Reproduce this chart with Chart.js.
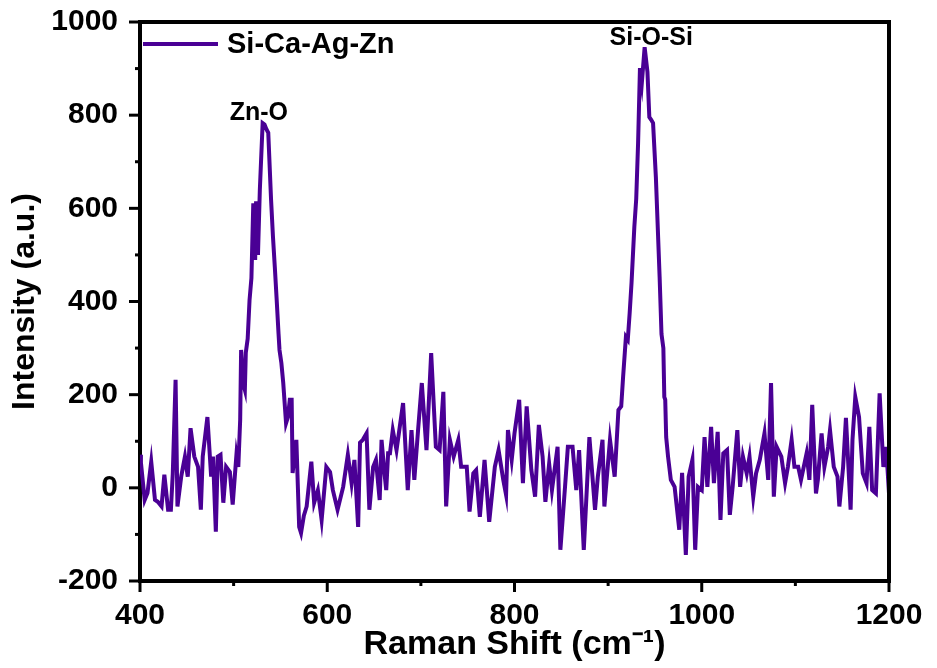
<!DOCTYPE html>
<html><head><meta charset="utf-8">
<script src="https://cdn.jsdelivr.net/npm/chart.js@4.4.1/dist/chart.umd.min.js"></script>
<style>html,body{margin:0;padding:0;background:#fff;} canvas{display:block;}</style>
</head><body>
<canvas id="c" width="937" height="668"></canvas>
<script>
const ramanShift = [400,401,405,408,412,416,419,423,426,430,433,435,438,440,444,448,451,454,458,462,465,467,472,476,478,481,483,486,489,492,496,499,503,505,507,508,510,512,513,515,517,519,521,523,524,526,528,531,533,535,537,540,542,544,546,548,549,551,553,556,558,560,562,563,567,570,572,575,578,583,586,590,594,599,603,606,611,617,622,626,629,633,635,638,642,645,649,652,656,658,661,663,665,667,670,674,681,686,690,693,697,701,706,711,716,720,724,727,731,735,740,743,749,752,756,759,763,768,773,779,783,788,791,793,797,800,805,809,813,818,822,826,830,833,837,840,846,849,854,857,862,866,869,874,880,886,889,894,896,902,907,911,914,916,919,921,923,925,928,930,932,934,936,939,942,944,946,948,951,955,957,959,960,961,962,964,967,971,976,979,983,986,990,993,996,1000,1003,1006,1010,1013,1017,1020,1023,1027,1030,1033,1038,1041,1044,1048,1051,1055,1058,1062,1067,1071,1074,1077,1080,1085,1089,1092,1096,1099,1103,1106,1112,1115,1118,1122,1124,1128,1131,1135,1137,1141,1145,1147,1151,1154,1159,1161,1164,1168,1172,1176,1179,1182,1186,1190,1194,1197,1200];
const intensity = [71,54,-26,-11,56,-26,-30,-40,28,-47,-47,30,232,-40,24,67,24,128,67,45,-47,67,152,24,67,-94,67,71,-32,45,34,-36,71,45,146,296,225,210,290,320,403,450,611,489,615,500,640,783,780,770,762,618,540,474,403,330,296,268,225,139,152,189,189,32,103,-84,-97,-60,-40,56,-32,-5,-69,45,34,-5,-47,2,71,10,60,-84,97,103,117,-47,45,60,-26,103,34,-5,74,74,124,81,182,-5,124,17,124,225,81,289,88,81,206,-40,103,67,103,45,45,-51,31,38,-62,60,-73,45,81,17,-15,124,60,117,189,10,175,38,-19,135,67,-30,52,-5,88,-133,3,88,88,-5,81,-133,109,-47,24,103,-40,103,24,167,175,238,324,318,375,440,560,620,740,901,869,946,893,796,790,783,667,453,330,300,195,189,109,67,17,2,-90,32,-144,24,60,-133,2,-5,109,2,131,10,120,-69,74,81,-58,2,124,2,67,31,67,-19,31,60,117,17,225,-19,88,67,10,45,103,45,45,17,74,17,178,-12,17,117,45,88,124,45,24,-40,45,150,-47,103,195,152,31,10,131,-5,-12,203,45,88,-12];
const xTickValues = [400,600,800,1000,1200];
const xMinorTicks = [500,700,900,1100];
const yTickValues = [-200,0,200,400,600,800,1000];
const yMinorTicks = [-100,100,300,500,700,900];
const seriesName = 'Si-Ca-Ag-Zn';
const peakLabels = ['Zn-O','Si-O-Si'];
const peakLabelX = [527, 946];
const peakLabelY = [790, 951];

const FONT = "'Liberation Sans', Arial, sans-serif";
const LINE_COLOR = '#4a0095';

const decor = {
  id: 'decor',
  beforeDraw(chart) {
    const ctx = chart.ctx;
    ctx.save();
    ctx.fillStyle = '#ffffff';
    ctx.fillRect(0, 0, chart.width, chart.height);
    ctx.restore();
  },
  afterDraw(chart) {
    const {ctx, chartArea: a, scales: {x, y}} = chart;
    ctx.save();
    ctx.strokeStyle = '#000';
    ctx.lineWidth = 4;
    ctx.lineCap = 'square';
    ctx.beginPath();
    ctx.moveTo(a.left, a.top); ctx.lineTo(a.right, a.top); ctx.lineTo(a.right, a.bottom);
    ctx.stroke();
    ctx.lineCap = 'butt';
    ctx.lineWidth = 3;
    const tick = (vals, len) => {
      vals.forEach(v => {
        const px = x.getPixelForValue(v);
        ctx.beginPath(); ctx.moveTo(px, a.bottom); ctx.lineTo(px, a.bottom + len); ctx.stroke();
      });
    };
    const ytick = (vals, len) => {
      vals.forEach(v => {
        const py = y.getPixelForValue(v);
        ctx.beginPath(); ctx.moveTo(a.left, py); ctx.lineTo(a.left - len, py); ctx.stroke();
      });
    };
    tick(xTickValues, 11); tick(xMinorTicks, 5);
    ytick(yTickValues, 11); ytick(yMinorTicks, 5);

    // legend (inside plot, top-left)
    const ds = chart.data.datasets[0];
    const ly = a.top + 22;
    ctx.strokeStyle = ds.borderColor;
    ctx.lineWidth = 4;
    ctx.beginPath(); ctx.moveTo(a.left + 3, ly); ctx.lineTo(a.left + 78, ly); ctx.stroke();
    ctx.fillStyle = '#000';
    ctx.font = 'bold 29px ' + FONT;
    ctx.textAlign = 'left';
    ctx.textBaseline = 'middle';
    ctx.fillText(ds.label, a.left + 87, ly + 1);

    ctx.font = 'bold 25px ' + FONT;
    ctx.textAlign = 'center';
    ctx.textBaseline = 'alphabetic';
    peakLabels.forEach((t, i) => {
      ctx.fillText(t, x.getPixelForValue(peakLabelX[i]), y.getPixelForValue(peakLabelY[i]));
    });
    ctx.restore();
  }
};

new Chart(document.getElementById('c'), {
  type: 'line',
  data: {
    datasets: [{
      label: seriesName,
      data: ramanShift.map((v, i) => ({x: v, y: intensity[i]})),
      borderColor: LINE_COLOR,
      backgroundColor: LINE_COLOR,
      borderWidth: 4,
      pointRadius: 0,
      tension: 0,
      fill: false
    }]
  },
  options: {
    responsive: false,
    animation: false,
    devicePixelRatio: 1,
    layout: {padding: {top: 22, right: 48, left: 0, bottom: 0}},
    plugins: {
      tooltip: {enabled: false},
      legend: {display: false}
    },
    scales: {
      x: {
        type: 'linear', min: 400, max: 1200,
        afterBuildTicks: s => { s.ticks = xTickValues.map(v => ({value: v})); },
        afterFit: s => { s.height = 87; s.paddingLeft = 0; s.paddingRight = 0; },
        ticks: {color: '#000', padding: 17, maxRotation: 0, autoSkip: false,
                callback: v => String(v),
                font: {family: FONT, size: 30, weight: 'bold'}},
        grid: {display: true, drawOnChartArea: false, drawTicks: false},
        border: {display: true, color: '#000', width: 4},
        title: {display: true, text: 'Raman Shift (cm\u207B\u00B9)', color: '#000',
                font: {family: FONT, size: 34, weight: 'bold'}, padding: {top: 0, bottom: 3}}
      },
      y: {
        type: 'linear', min: -200, max: 1000,
        afterBuildTicks: s => { s.ticks = yTickValues.map(v => ({value: v})); },
        afterFit: s => { s.width = 140; s.paddingTop = 0; s.paddingBottom = 0; },
        ticks: {color: '#000', padding: 22, callback: v => String(v),
                font: {family: FONT, size: 30, weight: 'bold'}},
        grid: {display: true, drawOnChartArea: false, drawTicks: false},
        border: {display: true, color: '#000', width: 4},
        title: {display: true, text: 'Intensity (a.u.)', color: '#000',
                font: {family: FONT, size: 32, weight: 'bold'}, padding: {top: 6, bottom: 0}}
      }
    }
  },
  plugins: [decor]
});
</script>
</body></html>
